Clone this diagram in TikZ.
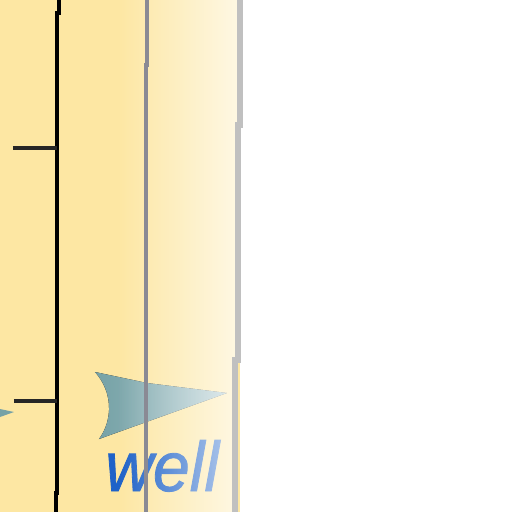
\documentclass[tikz,border=0pt]{standalone}
\usepackage{fontspec}
\setmainfont{Liberation Sans}
\newfontfamily\wellfont[FakeBold=1.2]{Liberation Sans}
\usetikzlibrary{fadings}

\definecolor{sandfill}{RGB}{253,231,163}
\definecolor{flagteal}{RGB}{118,162,166}
\definecolor{flaglight}{RGB}{160,192,198}
\definecolor{wordblue}{RGB}{30,98,200}
\definecolor{pipegray}{RGB}{138,138,148}
\definecolor{edgegray}{RGB}{192,192,192}
\tikzfading[name=fadetoright, left color=transparent!100, right color=transparent!0]

\begin{document}
\begin{tikzpicture}[
        x=0.02cm, y=-0.02cm,
        casing/.style={line width=2.8pt, draw=black},
        tick/.style={line width=2.3pt, draw=black!85},
        pipe/.style={line width=2.8pt, draw=pipegray},
        rim/.style={line width=3pt, draw=edgegray},
        flag/.style={left color=flagteal, right color=flaglight},
        word/.style={font=\wellfont\fontsize{40}{40}\selectfont\itshape, text=wordblue, inner sep=0pt, anchor=base west}
    ]
    \useasboundingbox (0,0) rectangle (512,512);

    % Background
    \fill[white] (0,0) rectangle (512,512);
    \fill[sandfill] (0,0) rectangle (240,512);

    % Flow arrow and label
    \fill[flag] (95,372) -- (147,383) -- (227,393) -- (99,439) .. controls (113,420) and (113,392) .. (95,372) -- cycle;
    \fill[flagteal] (0,409) -- (14,412) -- (0,417) -- cycle;
    \node[word] (well) at (105,491) {\scalebox{0.94}[1]{well}};

    % Fade toward the right
    \fill[white, path fading=fadetoright, fill opacity=0.7] (118,0) rectangle (238,512);

    % Lines
    \draw[casing] (59,0) -- (59,13) -- (57,13) -- (57,493) -- (56,493) -- (56,512);
    \draw[tick] (13,148) -- (57,148);
    \draw[tick] (14,401) -- (57,401);
    \draw[pipe] (147,0) -- (147,65) -- (146,65) -- (146,512);
    \draw[rim] (240,0) -- (240,125) -- (238,125) -- (238,360) -- (235,360) -- (235,512);

\end{tikzpicture}
\end{document}
